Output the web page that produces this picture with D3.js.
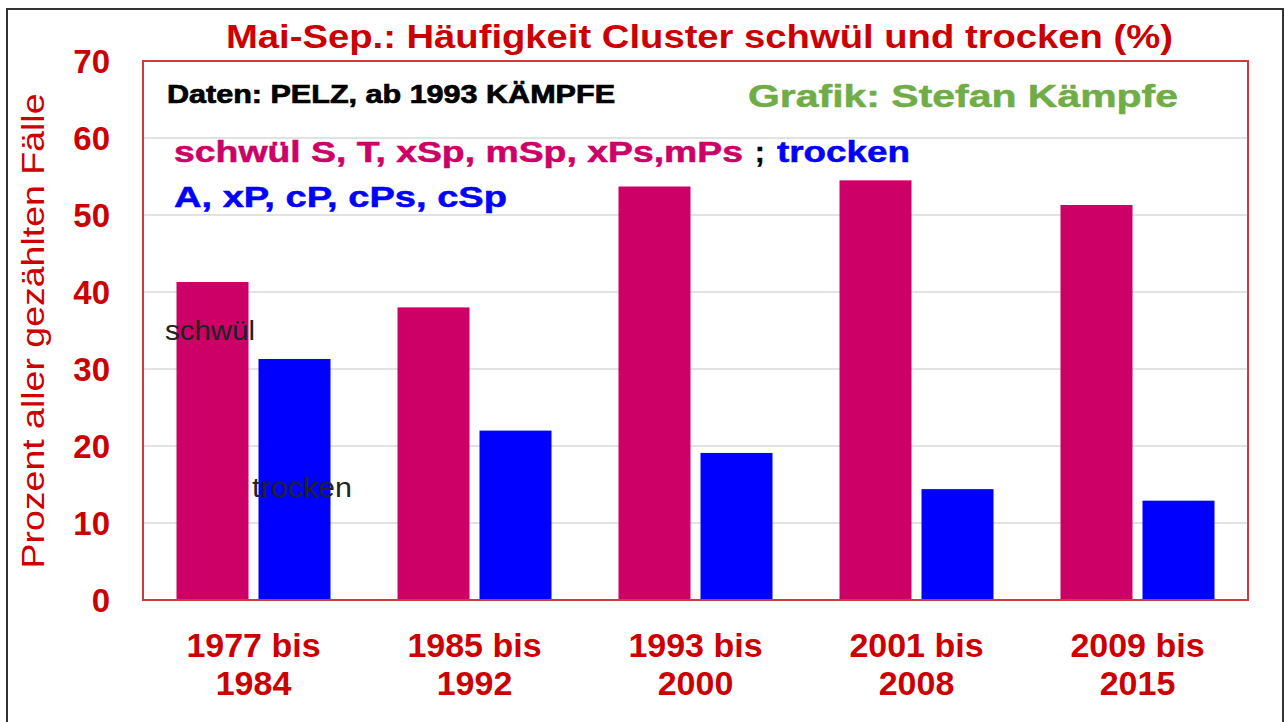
<!DOCTYPE html>
<html>
<head>
    <meta charset="utf-8">
    <title>Mai-Sep.: Häufigkeit Cluster schwül und trocken</title>
    <script src="https://cdnjs.cloudflare.com/ajax/libs/d3/7.8.5/d3.min.js"></script>
    <style>
        body { margin: 0; background: #fff; }
        text { font-family: "Liberation Sans", Arial, sans-serif; }
    </style>
</head>
<body>
    <div id="chart"></div>
    <script>
        // data
        const periods = ["1977 bis|1984", "1985 bis|1992", "1993 bis|2000", "2001 bis|2008", "2009 bis|2015"];
        const series = ["schwuel", "trocken"];
        const schwuel = [41.3, 38.0, 53.7, 54.5, 51.3];
        const trocken = [31.3, 22.0, 19.1, 14.4, 12.9];
        const yTicks = [0, 10, 20, 30, 40, 50, 60, 70];

        const width = 1285;
        const height = 722;
        const plot = { left: 143, right: 1248, top: 61, bottom: 600 };
        const red = "#cc0000";
        const colors = { schwuel: "#cc0066", trocken: "#0000ff" };

        const svg = d3.select("#chart")
            .append("svg")
            .attr("width", width)
            .attr("height", height);

        // outer frame
        svg.append("rect")
            .attr("x", 7).attr("y", 9)
            .attr("width", 1276).attr("height", 730)
            .attr("fill", "none")
            .attr("stroke", "#333")
            .attr("stroke-width", 2);

        const x0 = d3.scaleBand()
            .domain(periods)
            .range([plot.left, plot.right])
            .paddingInner(0.3032)
            .paddingOuter(0.1516);

        const x1 = d3.scaleBand()
            .domain(series)
            .range([0, x0.bandwidth()])
            .paddingInner(0.122);

        const y = d3.scaleLinear()
            .domain([0, 70])
            .range([plot.bottom, plot.top]);

        // gridlines
        svg.append("g")
            .selectAll("line")
            .data(yTicks.filter(d => d > 0 && d < 70))
            .join("line")
            .attr("x1", plot.left).attr("x2", plot.right)
            .attr("y1", d => y(d)).attr("y2", d => y(d))
            .attr("stroke", "#d9d9d9")
            .attr("stroke-width", 1.5);

        // bars
        const rows = periods.map((p, i) => ({ period: p, schwuel: schwuel[i], trocken: trocken[i] }));
        svg.append("g")
            .selectAll("g")
            .data(rows)
            .join("g")
            .attr("transform", d => `translate(${x0(d.period)},0)`)
            .selectAll("rect")
            .data(d => series.map(k => ({ key: k, value: d[k] })))
            .join("rect")
            .attr("x", d => x1(d.key))
            .attr("y", d => y(d.value))
            .attr("width", x1.bandwidth())
            .attr("height", d => y(0) - y(d.value))
            .attr("fill", d => colors[d.key]);

        // plot border
        svg.append("rect")
            .attr("x", plot.left).attr("y", plot.top)
            .attr("width", plot.right - plot.left)
            .attr("height", plot.bottom - plot.top)
            .attr("fill", "none")
            .attr("stroke", "#d23a3a")
            .attr("stroke-width", 2);

        // y axis
        const yAxis = svg.append("g")
            .attr("transform", `translate(${plot.left},0)`)
            .call(d3.axisLeft(y).tickValues(yTicks).tickSize(0).tickPadding(33));
        yAxis.select(".domain").remove();
        yAxis.selectAll("text")
            .attr("fill", red)
            .attr("font-size", 33)
            .attr("font-weight", "bold")
            .attr("font-family", "Liberation Sans, Arial, sans-serif")
            .attr("dy", "0.36em");

        // x labels
        const xl = svg.append("g")
            .selectAll("text")
            .data(periods)
            .join("text")
            .attr("x", d => x0(d) + x0.bandwidth() / 2)
            .attr("y", 657)
            .attr("text-anchor", "middle")
            .attr("fill", red)
            .attr("font-size", 34)
            .attr("font-weight", "bold");
        xl.selectAll("tspan")
            .data(d => d.split("|"))
            .join("tspan")
            .attr("x", function() { return this.parentNode.getAttribute("x"); })
            .attr("dy", (d, i) => i === 0 ? 0 : 38)
            .text(d => d);

        // y title
        svg.append("text")
            .attr("transform", "translate(44,331) rotate(-90)")
            .attr("text-anchor", "middle")
            .attr("fill", red)
            .attr("font-size", 32)
            .attr("textLength", 475)
            .attr("lengthAdjust", "spacingAndGlyphs")
            .text("Prozent aller gezählten Fälle");

        // title
        svg.append("text")
            .attr("x", 226).attr("y", 48)
            .attr("fill", red)
            .attr("font-size", 34)
            .attr("font-weight", "bold")
            .attr("textLength", 947)
            .attr("lengthAdjust", "spacingAndGlyphs")
            .text("Mai-Sep.: Häufigkeit Cluster schwül und trocken (%)");

        // notes inside the plot
        svg.append("text")
            .attr("x", 167).attr("y", 103)
            .attr("font-size", 25).attr("font-weight", "bold")
            .attr("fill", "#000").attr("stroke", "#000").attr("stroke-width", 0.7)
            .attr("textLength", 448).attr("lengthAdjust", "spacingAndGlyphs")
            .text("Daten: PELZ, ab 1993 KÄMPFE");

        svg.append("text")
            .attr("x", 748).attr("y", 107)
            .attr("font-size", 31).attr("font-weight", "bold")
            .attr("fill", "#70ad47").attr("stroke", "#70ad47").attr("stroke-width", 0.5)
            .attr("textLength", 430).attr("lengthAdjust", "spacingAndGlyphs")
            .text("Grafik: Stefan Kämpfe");

        svg.append("text")
            .attr("x", 174).attr("y", 162)
            .attr("font-size", 29).attr("font-weight", "bold")
            .attr("fill", colors.schwuel).attr("stroke", colors.schwuel).attr("stroke-width", 0.5)
            .attr("textLength", 569).attr("lengthAdjust", "spacingAndGlyphs")
            .text("schwül S, T, xSp, mSp, xPs,mPs");
        svg.append("text")
            .attr("x", 755).attr("y", 162)
            .attr("font-size", 29).attr("font-weight", "bold")
            .attr("fill", "#000").attr("stroke", "#000").attr("stroke-width", 0.5)
            .text(";");
        svg.append("text")
            .attr("x", 777).attr("y", 162)
            .attr("font-size", 29).attr("font-weight", "bold")
            .attr("fill", colors.trocken).attr("stroke", colors.trocken).attr("stroke-width", 0.5)
            .attr("textLength", 133).attr("lengthAdjust", "spacingAndGlyphs")
            .text("trocken");

        svg.append("text")
            .attr("x", 174).attr("y", 207)
            .attr("font-size", 29).attr("font-weight", "bold")
            .attr("fill", colors.trocken).attr("stroke", colors.trocken).attr("stroke-width", 0.5)
            .attr("textLength", 333).attr("lengthAdjust", "spacingAndGlyphs")
            .text("A, xP, cP, cPs, cSp");

        // series labels
        svg.append("text")
            .attr("x", 165).attr("y", 340)
            .attr("font-size", 27)
            .attr("fill", "#222")
            .attr("textLength", 90).attr("lengthAdjust", "spacingAndGlyphs")
            .text("schwül");
        svg.append("text")
            .attr("x", 252).attr("y", 497)
            .attr("font-size", 27)
            .attr("fill", "#222")
            .attr("textLength", 100).attr("lengthAdjust", "spacingAndGlyphs")
            .text("trocken");
    </script>
</body>
</html>
